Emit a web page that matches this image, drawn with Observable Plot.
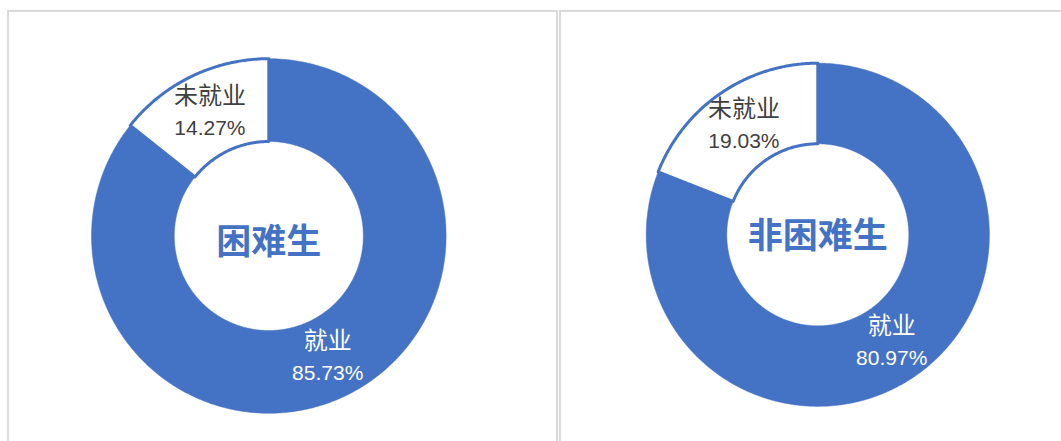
<!DOCTYPE html>
<html><head><meta charset="utf-8">
<script src="https://cdn.jsdelivr.net/npm/d3@7"></script>
<script src="https://cdn.jsdelivr.net/npm/@observablehq/plot@0.6"></script>
<style>
html,body{margin:0;padding:0;background:#fff;overflow:hidden}
#chart{position:relative;width:1061px;height:441px}
</style></head><body><div id="chart"></div>
<script>
// ---- data ----
const groups = ["困难生", "非困难生"];
const categories = ["就业", "未就业"];
const employedPct = [85.73, 80.97];
const unemployedPct = [14.27, 19.03];

// ---- layout ----
const W = 1061, H = 441;
const BLUE = "#4472C4";
const panels = [
  {x1: 8, x2: 557, y1: 11, y2: 470},
  {x1: 560, x2: 1075, y1: 11, y2: 470}
];
const donuts = [
  {cx: 268.3, cy: 235.5, R: 177.3, r: 94.5, titleDy: 7},
  {cx: 817.3, cy: 234.3, R: 171.6, r: 91, titleDy: 2}
];

// ---- geometry from data ----
const slicePts = [];
const labels = [];
const titles = [];
groups.forEach((g, gi) => {
  const d = donuts[gi];
  const values = [employedPct[gi], unemployedPct[gi]];
  const arcs = d3.pie().sort(null)(values);
  arcs.forEach((a, ci) => {
    const id = g + "-" + categories[ci];
    const n = Math.max(2, Math.ceil((a.endAngle - a.startAngle) / (Math.PI / 360)));
    const pts = [];
    for (let i = 0; i <= n; i++) {
      const t = a.startAngle + (a.endAngle - a.startAngle) * i / n;
      pts.push([d.cx + d.R * Math.sin(t), d.cy - d.R * Math.cos(t)]);
    }
    for (let i = n; i >= 0; i--) {
      const t = a.startAngle + (a.endAngle - a.startAngle) * i / n;
      pts.push([d.cx + d.r * Math.sin(t), d.cy - d.r * Math.cos(t)]);
    }
    pts.push(pts[0]);
    pts.forEach(([x, y]) => slicePts.push({id, cat: categories[ci], x, y}));
    const mid = (a.startAngle + a.endAngle) / 2, rm = (d.R + d.r) / 2;
    labels.push({
      cat: categories[ci],
      x: d.cx + rm * Math.sin(mid),
      y: d.cy - rm * Math.cos(mid),
      name: categories[ci],
      pct: values[ci].toFixed(2) + "%"
    });
  });
  titles.push({text: g, x: d.cx, y: d.cy + d.titleDy});
});

const labelFill = d => d.cat === "就业" ? "#fff" : "#404040";

const plot = Plot.plot({
  width: W, height: H, margin: 0,
  style: {background: "#fff"},
  x: {domain: [0, W], range: [0, W], axis: null},
  y: {domain: [0, H], range: [0, H], axis: null},
  marks: [
    Plot.rect(panels, {x1: "x1", x2: "x2", y1: "y1", y2: "y2", fill: "none", stroke: "#dadada", strokeWidth: 2}),
    Plot.line(slicePts.filter(d => d.cat === "就业"), {x: "x", y: "y", z: "id", fill: BLUE, stroke: BLUE, strokeWidth: 0.5, curve: "linear"}),
    Plot.line(slicePts.filter(d => d.cat === "未就业"), {x: "x", y: "y", z: "id", fill: "#fff", stroke: BLUE, strokeWidth: 3, curve: "linear"}),
    Plot.text(labels, {x: "x", y: "y", dy: -17, text: "name", fill: labelFill,
      fontSize: 24, fontFamily: "'Noto Sans CJK SC',sans-serif"}),
    Plot.text(labels, {x: "x", y: "y", dy: 15, text: "pct", fill: labelFill,
      fontSize: 21, fontFamily: "'Liberation Sans',Arial,sans-serif"}),
    Plot.text(titles, {x: "x", y: "y", text: "text", fill: BLUE, fontSize: 35, fontWeight: "bold",
      fontFamily: "'Noto Sans CJK SC',sans-serif", ariaLabel: "title"})
  ]
});
d3.select(plot).selectAll("g[aria-label='title'] text").style("letter-spacing", "3px");
document.getElementById("chart").appendChild(plot);
</script></body></html>
